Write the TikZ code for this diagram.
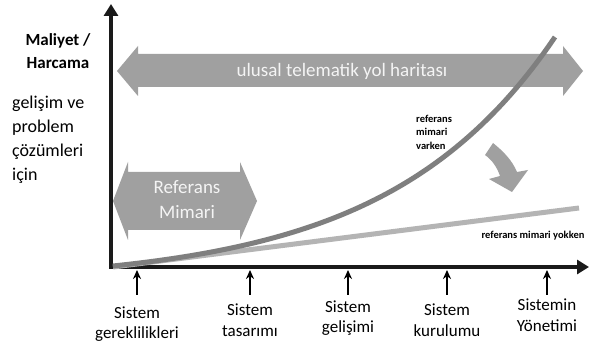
\documentclass[tikz,border=0pt]{standalone}
\usepackage{fontspec}
\setmainfont{Carlito}
\usetikzlibrary{arrows.meta}
\definecolor{arrowgray}{HTML}{A0A0A0}
\definecolor{curvedark}{HTML}{7F7F7F}
\definecolor{curvelight}{HTML}{B4B4B4}
\definecolor{axisblack}{HTML}{1A1A1A}
\definecolor{textwhite}{HTML}{F4F4F4}
\tikzset{
  axisline/.style={line width=4.5pt, draw=axisblack, -{Triangle[length=12pt,width=14pt]}},
  tickarrow/.style={line width=1.6pt, draw=black, -{Stealth[length=9pt,width=8pt]}},
  bigarrow/.style={fill=arrowgray, draw=none},
  arrowtext/.style={text=textwhite, font=\fontsize{19}{25}\selectfont, align=center, inner sep=0pt},
  ticklabel/.style={font=\fontsize{17}{20.5}\selectfont, align=center, inner sep=0pt},
  smalllabel/.style={font=\bfseries\fontsize{10.5}{13.5}\selectfont, align=left, inner sep=0pt},
  sidelabel/.style={font=\fontsize{18}{24}\selectfont, align=left, inner sep=0pt},
  costlabel/.style={font=\bfseries\fontsize{17}{23}\selectfont, align=center, inner sep=0pt}
}
\begin{document}
\begin{tikzpicture}[x=1pt,y=-1pt]
\useasboundingbox[fill=white] (0,0) rectangle (590,347);

% big double arrows
\path[bigarrow] (117,71) -- (138,46) -- (138,54) -- (563,54) -- (563,46) -- (583,71)
  -- (563,96) -- (563,87) -- (138,87) -- (138,96) -- cycle;
\node[arrowtext] (roadmap) at (342,71) {ulusal telematik yol haritası};

\path[bigarrow] (113,201) -- (128,162) -- (128,172) -- (240,172) -- (240,162) -- (257,201)
  -- (240,240) -- (240,230) -- (128,230) -- (128,240) -- cycle;
\node[arrowtext] (refarch) at (187,200) {Referans\\Mimari};

% axes
\coordinate (ybase) at (111,269);
\coordinate (ytop) at (111,4);
\coordinate (xbase) at (109,267);
\coordinate (xend) at (589,267);
\draw[axisline] (ybase) -- (ytop);
\draw[axisline] (xbase) -- (xend);

% curves
\coordinate (lstart) at (113,267);
\coordinate (lend) at (579,208);
\draw[curvelight, line width=5pt] (lstart) -- (lend);
\draw[curvedark, line width=5pt, domain=113:555, samples=60, smooth]
  plot (\x, {266-17.4*(exp(0.006*(\x-113))-1)});

% curved arrow
\path[bigarrow] (485,155) -- (493,143) .. controls (503,151) and (512,160) .. (517,172)
  -- (528,170) -- (512,192) -- (489,179) -- (500,176)
  .. controls (497,167) and (492,160) .. (485,155) -- cycle;

% labels
\node[smalllabel, anchor=west] (varken) at (416,132) {referans\\mimari\\varken};
\node[smalllabel] (yokken) at (533,236) {referans mimari yokken};

\node[costlabel] (cost) at (58,51) {Maliyet /\\Harcama};
\node[sidelabel, anchor=west] (purpose) at (12,140) {gelişim ve\\problem\\çözümleri\\için};

% ticks
\foreach \n/\x in {t1/137, t2/250, t3/348, t4/447, t5/547}{
  \coordinate (\n b) at (\x,295);
  \coordinate (\n t) at (\x,270);
  \draw[tickarrow] (\n b) -- (\n t);
}
\node[ticklabel] (l1) at (137,324) {Sistem\\gereklilikleri};
\node[ticklabel] (l2) at (250,320) {Sistem\\tasarımı};
\node[ticklabel] (l3) at (348,318) {Sistem\\gelişimi};
\node[ticklabel] (l4) at (447,320) {Sistem\\kurulumu};
\node[ticklabel] (l5) at (547,315) {Sistemin\\Yönetimi};
\end{tikzpicture}
\end{document}
